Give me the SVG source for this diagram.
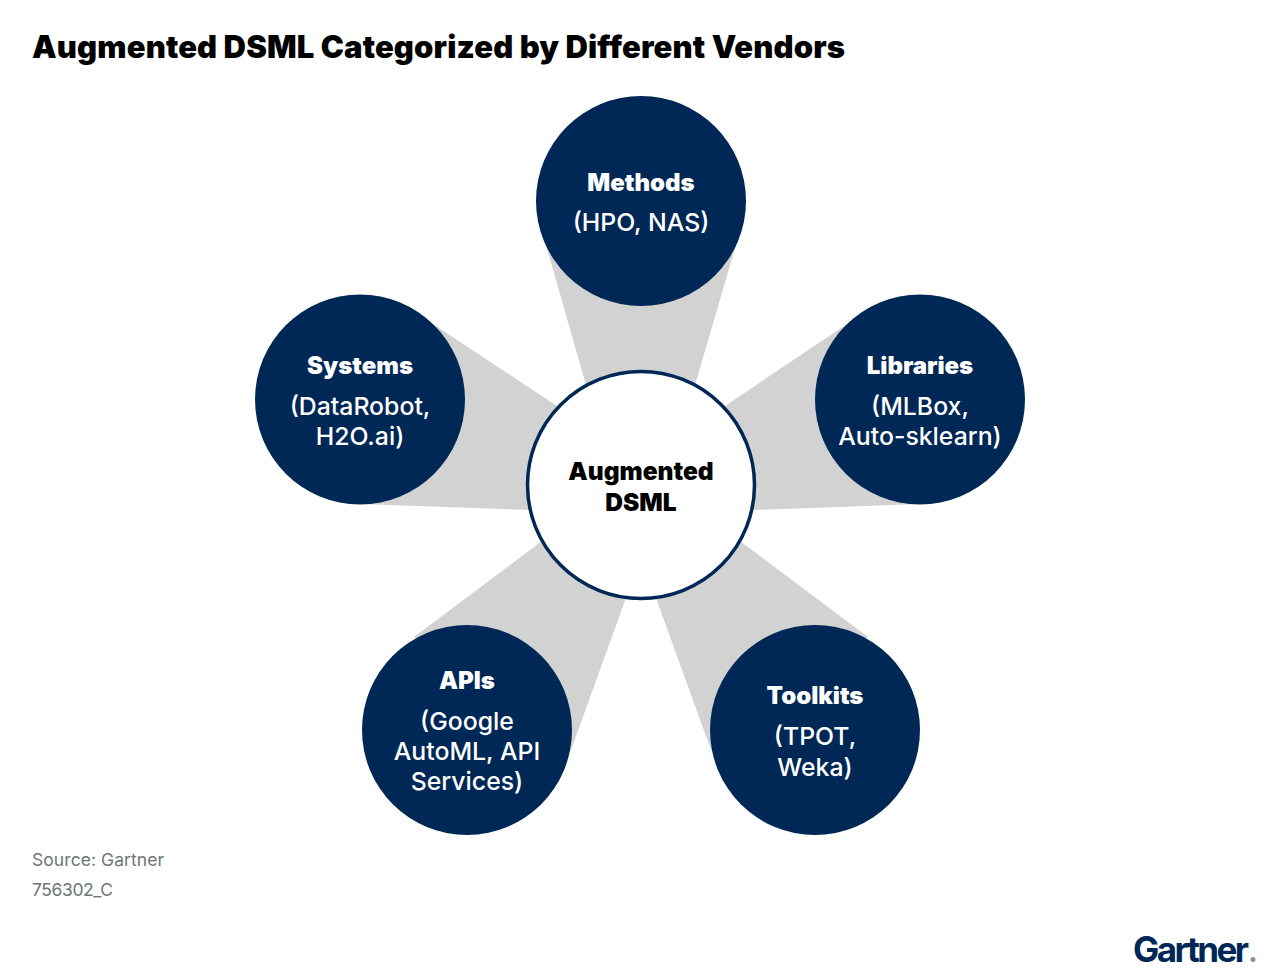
<svg xmlns="http://www.w3.org/2000/svg" width="1280" height="976" viewBox="0 0 1280 976">
<style>
.t{font-family:"Inter","Liberation Sans",sans-serif;text-anchor:middle}
.b{font-weight:900;font-size:24px;fill:#fff}
.r{font-weight:500;font-size:24.800px;fill:#fff}
.k{font-weight:900;font-size:24.500px;fill:#000}
.c{fill:#002856}
.w{fill:#d2d2d2}
.s{font-family:"Inter","Liberation Sans",sans-serif;font-size:17.500px;fill:#6e7676}
</style>
<rect width="1280" height="976" fill="#fff"/>
<text x="32" y="58" font-family="Inter,'Liberation Sans',sans-serif" font-weight="900" font-size="31" textLength="813" lengthAdjust="spacing" fill="#000">Augmented DSML Categorized by Different Vendors</text>
<g id="connectors">
<polygon class="w" points="546,245 736,245 695,385 586,385"/>
<polygon class="w" points="436,326 560,408 530,510 360,504"/>
<polygon class="w" points="844,326 722,408 752,510 920,504"/>
<polygon class="w" points="414,637 542,541 626,598 571,750"/>
<polygon class="w" points="868,637 740,541 656,598 711,750"/>
</g>
<g id="methods"><circle class="c" cx="641" cy="201" r="105"/><text class="t b" x="641" y="191">Methods</text><text class="t r" x="641" y="231">(HPO, NAS)</text></g>
<g id="systems"><circle class="c" cx="360" cy="399.500" r="105"/><text class="t b" x="360" y="374">Systems</text><text class="t r" x="360" y="415">(DataRobot,</text><text class="t r" x="360" y="445">H2O.ai)</text></g>
<g id="libraries"><circle class="c" cx="920" cy="399.500" r="105"/><text class="t b" x="920" y="374">Libraries</text><text class="t r" x="920" y="415">(MLBox,</text><text class="t r" x="920" y="445">Auto-sklearn)</text></g>
<g id="apis"><circle class="c" cx="467" cy="730" r="105"/><text class="t b" x="467" y="689">APIs</text><text class="t r" x="467" y="730">(Google</text><text class="t r" x="467" y="760">AutoML, API</text><text class="t r" x="467" y="790">Services)</text></g>
<g id="toolkits"><circle class="c" cx="815" cy="730" r="105"/><text class="t b" x="815" y="704">Toolkits</text><text class="t r" x="815" y="745">(TPOT,</text><text class="t r" x="815" y="776">Weka)</text></g>
<g id="center"><circle cx="641" cy="485" r="113.500" fill="#fff" stroke="#002856" stroke-width="3.500"/><text class="t k" x="641" y="480">Augmented</text><text class="t k" x="641" y="511">DSML</text></g>
<text class="s" x="32" y="866" textLength="132">Source: Gartner</text>
<text class="s" x="32" y="896" textLength="81">756302_C</text>
<text x="1133" y="962" font-family="Inter,'Liberation Sans',sans-serif" font-weight="700" font-size="35" textLength="116" fill="#002856">Gartner</text>
<circle cx="1253" cy="959.500" r="2.500" fill="#7f93aa"/>
</svg>
